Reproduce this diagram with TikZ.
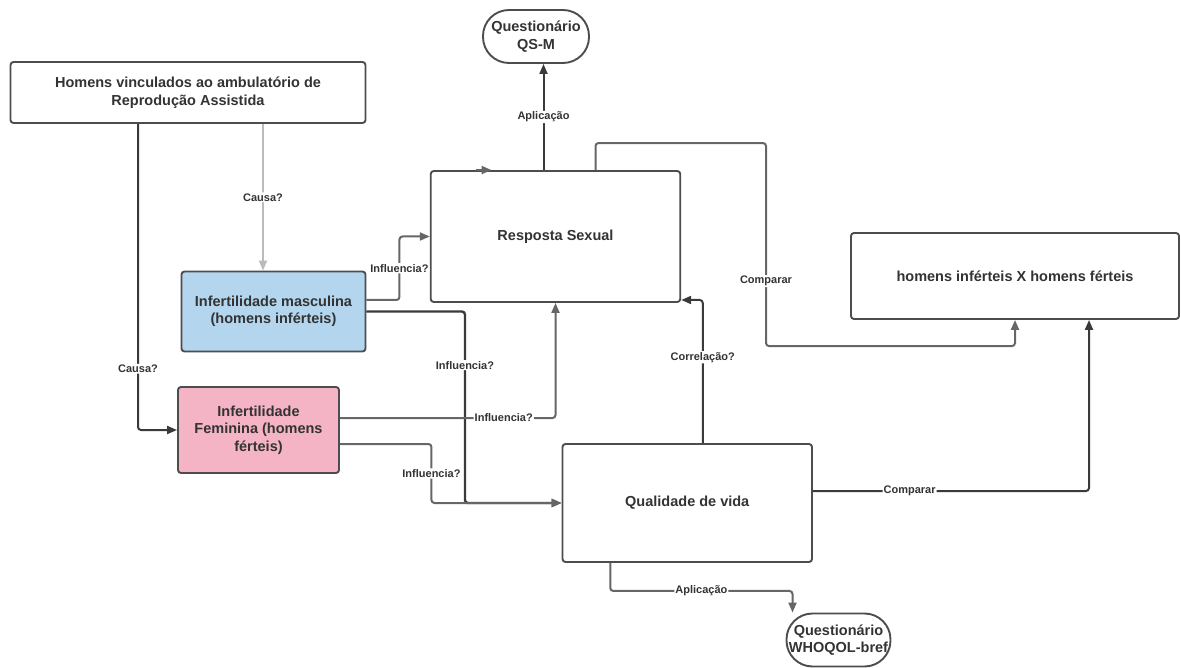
\documentclass[tikz,border=0pt]{standalone}
\usepackage{fontspec}
\setmainfont{Liberation Sans}
\usetikzlibrary{arrows.meta}
\definecolor{txtgray}{HTML}{333333}
\definecolor{boxline}{HTML}{4D4D4D}
\definecolor{darkline}{HTML}{3A3A3A}
\definecolor{midline}{HTML}{666666}
\definecolor{lightline}{HTML}{BBBBBB}
\definecolor{mascblue}{HTML}{B3D6EE}
\definecolor{fempink}{HTML}{F5B3C6}
\tikzstyle{box} = [draw=boxline, line width=1.9pt, rounded corners=3pt,
    text=txtgray, font=\bfseries\fontsize{14.5}{17.5}\selectfont, align=center, inner sep=0pt]
\tikzstyle{quest} = [box, rounded corners=26pt]
\tikzstyle{edge} = [draw=darkline, line width=2pt, rounded corners=3pt, -{Triangle[length=10pt,width=8pt]}]
\tikzstyle{softedge} = [edge, draw=midline]
\tikzstyle{lbl} = [fill=white, text=txtgray, font=\bfseries\fontsize{11}{13}\selectfont, inner sep=1pt]

\begin{document}
\begin{tikzpicture}[x=1pt, y=-1pt]
\useasboundingbox (0,0) rectangle (1181,668);

% boxes
\node[box, minimum width=355, minimum height=61] (homens) at (188,92.5) {Homens vinculados ao ambulatório de\\Reprodução Assistida};
\node[quest, minimum width=106, minimum height=53] (qsm) at (536,36.5) {Questionário\\QS-M};
\node[box, minimum width=249.5, minimum height=131] (resp) at (555.5,236.5) {Resposta Sexual};
\node[box, minimum width=328, minimum height=86] (comp) at (1015,276) {homens inférteis X homens férteis};
\node[box, fill=mascblue, minimum width=184, minimum height=80] (masc) at (273.5,311.5) {Infertilidade masculina\\(homens inférteis)};
\node[box, fill=fempink, minimum width=161, minimum height=86] (fem) at (258.5,430) {Infertilidade\\Feminina (homens\\férteis)};
\node[box, minimum width=249.5, minimum height=118] (qual) at (687.25,503) {Qualidade de vida};
\node[quest, minimum width=104, minimum height=53] (who) at (838.5,640) {Questionário\\WHOQOL-bref};

% connectors
\draw[edge, draw=lightline] ([xshift=75pt]homens.south) -- node[lbl]{Causa?} ([xshift=75pt]homens.south |- masc.north);
\draw[edge] ([xshift=-50pt]homens.south) |- node[lbl, pos=0.4]{Causa?} (fem.west);
\draw[edge] ([xshift=-12pt]resp.north) -- node[lbl]{Aplicação} ([xshift=-12pt]resp.north |- qsm.south);
\draw[softedge] ([xshift=-80pt]resp.north) -- ([xshift=-64pt]resp.north);
\draw[softedge] ([yshift=11.5pt]masc.east) -- ++(33,0) |- node[lbl, pos=0.25]{Influencia?} (resp.west);
\draw[edge, line width=2.4pt] (masc.east) -- ++(98.5,0) |- node[lbl, pos=0.14]{Influencia?} (qual.west);
\draw[softedge] ([yshift=12pt]fem.east) -| node[lbl, pos=0.38]{Influencia?} (resp.south);
\draw[softedge] ([yshift=-14pt]fem.east) -- ++(91.5,0) |- node[lbl, pos=0.25]{Influencia?} (qual.west);
\draw[edge] ([xshift=15.5pt]qual.north) |- node[lbl, pos=0.3]{Correlação?} ([yshift=-63.5pt]resp.east);
\draw[softedge] ([xshift=40pt]resp.north) -- ++(0,-27) -- ++(170.5,0) -- node[lbl, pos=0.68]{Comparar} ++(0,203) -| (comp.south);
\draw[edge] ([yshift=12pt]qual.east) -| node[lbl, pos=0.175]{Comparar} ([xshift=74pt]comp.south);
\draw[softedge] ([xshift=-77pt]qual.south) -- ++(0,28) -| node[lbl, pos=0.25]{Aplicação} ([xshift=-46pt]who.north);

\end{tikzpicture}
\end{document}
